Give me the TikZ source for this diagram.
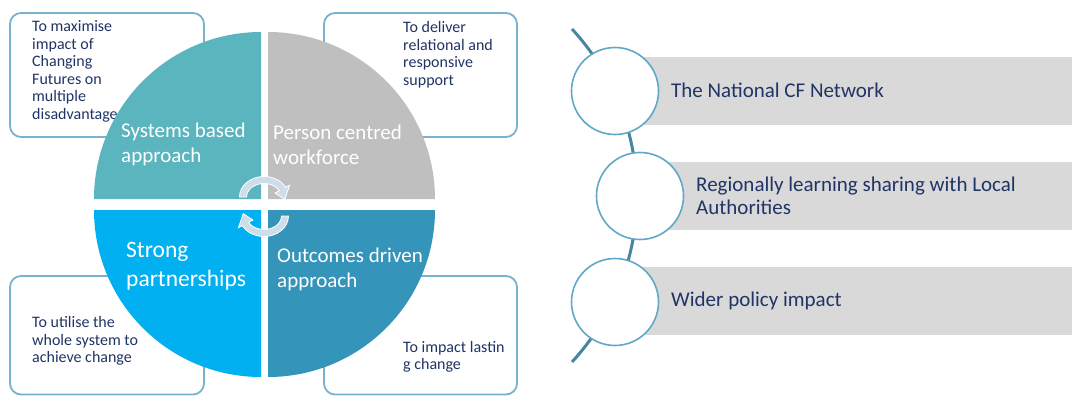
\documentclass[tikz,border=0pt]{standalone}
\usepackage{fontspec}
\setmainfont{Carlito}
\definecolor{boxblue}{RGB}{120,178,208}
\definecolor{navy}{RGB}{32,52,102}
\definecolor{qteal}{RGB}{90,181,190}
\definecolor{qgray}{RGB}{191,191,191}
\definecolor{qblue}{RGB}{0,176,240}
\definecolor{qsteel}{RGB}{52,148,186}
\definecolor{arrowfill}{RGB}{206,221,233}
\definecolor{bargray}{RGB}{217,217,217}
\definecolor{ringblue}{RGB}{95,168,200}
\definecolor{arcteal}{RGB}{70,134,158}
\begin{document}
\begin{tikzpicture}[x=1pt,y=-1pt,
  goalbox/.style={draw=boxblue, line width=1.8pt, rounded corners=11pt, fill=white},
  goaltext/.style={anchor=west, align=left, text=navy, font=\fontsize{16}{17.5}\selectfont, inner sep=0pt},
  quadtext/.style={anchor=west, align=left, text=white, font=\fontsize{21}{25}\selectfont, inner sep=0pt},
  bigquadtext/.style={quadtext, font=\fontsize{23.5}{29}\selectfont},
  listtext/.style={anchor=west, align=left, text=navy, font=\fontsize{21}{23}\selectfont, inner sep=0pt},
  ring/.style={circle, draw=ringblue, line width=1.6pt, fill=white, minimum size=87pt, inner sep=0pt},
  cycarrow/.pic={
    \fill[arrowfill, draw=white, line width=0.8pt]
      ({-24.5},0) arc[start angle=180, end angle=332, x radius=24.5, y radius=20.5]
      -- ({29*cos(332)},{25*sin(332)})
      -- ({21*cos(8)},{17*sin(8)})
      -- ({12.5*cos(332)},{8.5*sin(332)})
      -- ({17.5*cos(332)},{13.5*sin(332)})
      arc[start angle=332, end angle=180, x radius=17.5, y radius=13.5]
      -- cycle;
  }]
\useasboundingbox (0,0) rectangle (1072,396);

% goal boxes
\draw[goalbox] (10,13) rectangle (204,137);
\draw[goalbox] (324,13) rectangle (517,137);
\draw[goalbox] (10,276) rectangle (204,394.5);
\draw[goalbox] (324,276) rectangle (517,394.5);

\node[goaltext] (t1) at (32,71.5) {To maximise\\impact of\\Changing\\Futures on\\multiple\\disadvantage};
\node[goaltext] (t2) at (403,54.5) {To deliver\\relational and\\responsive\\support};
\node[goaltext] (t3) at (32,341) {To utilise the\\whole system to\\achieve change};
\node[goaltext] (t4) at (403,357) {To impact lastin\\g change};

% quadrants
\fill[qteal] (261,199) -- (94,199) arc[start angle=180, end angle=270, radius=167] -- cycle;
\fill[qgray] (268,199) -- (268,32) arc[start angle=270, end angle=360, radius=167] -- cycle;
\fill[qsteel] (268,210) -- (435,210) arc[start angle=0, end angle=90, radius=167] -- cycle;
\fill[qblue] (261,210) -- (261,377) arc[start angle=90, end angle=180, radius=167] -- cycle;

% cycle arrows
\pic at (264,197) {cycarrow};
\pic[rotate=180] at (264,216) {cycarrow};

\node[quadtext] (q1) at (121,144.5) {Systems based\\approach};
\node[quadtext] (q2) at (273,144.5) {Person centred\\workforce};
\node[bigquadtext] (q3) at (126,266.5) {Strong\\partnerships};
\node[quadtext] (q4) at (277,269.5) {Outcomes driven\\approach};

% right list
\fill[bargray] (615,57) rectangle (1072,125);
\fill[bargray] (640,162) rectangle (1072,230);
\fill[bargray] (615,267) rectangle (1072,335);

\coordinate (ctop) at (572,29);
\coordinate (cbot) at (572,362);
\draw[arcteal, line width=3pt] (ctop) arc[start angle=-42.6, end angle=42.6, radius=246];

\node[ring] (c1) at (615,91) {};
\node[ring] (c2) at (640,196) {};
\node[ring] (c3) at (615,302) {};

\node[listtext] (l1) at (671,90) {The National CF Network};
\node[listtext] (l2) at (696,195.5) {Regionally learning sharing with Local\\Authorities};
\node[listtext] (l3) at (671,301) {Wider policy impact};
\end{tikzpicture}
\end{document}
